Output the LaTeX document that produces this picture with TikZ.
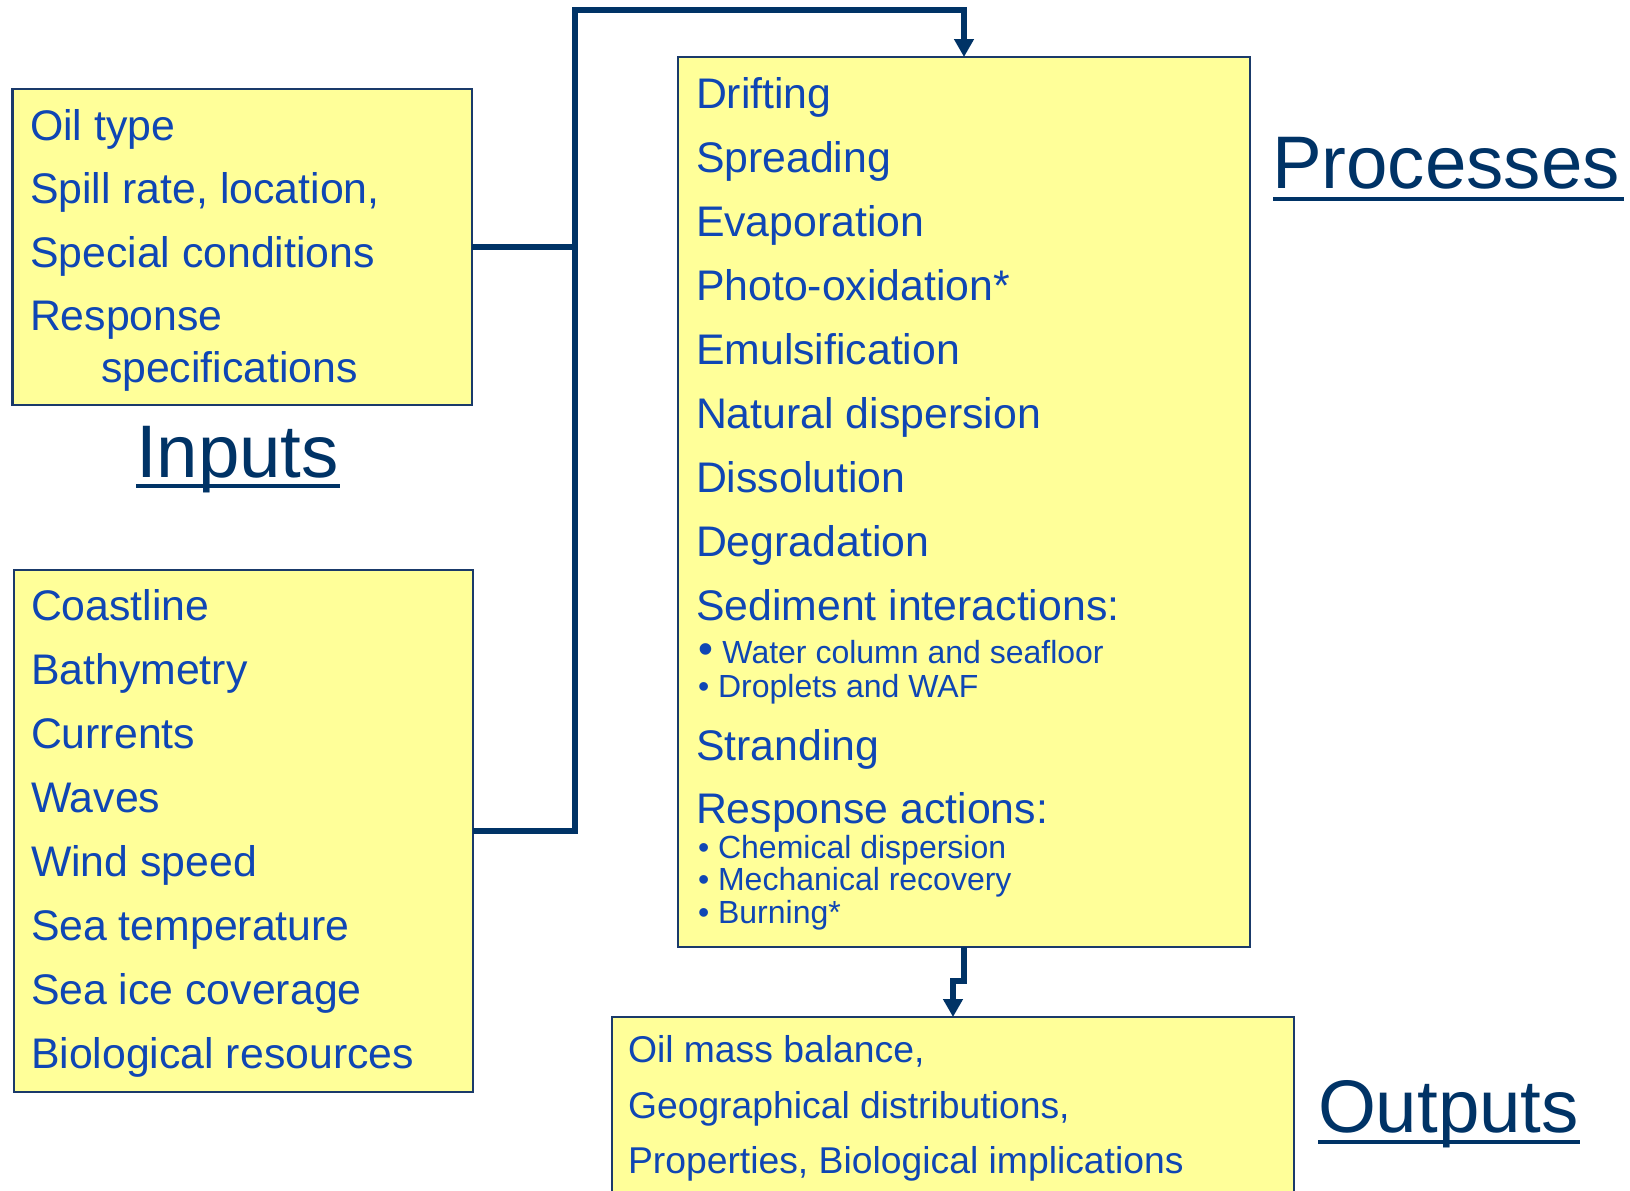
\documentclass[tikz,border=0pt]{standalone}
\usepackage{fontspec}
\setmainfont{Liberation Sans}
\usetikzlibrary{arrows.meta}
\definecolor{txtblue}{HTML}{0F46B4}
\definecolor{navy}{HTML}{003366}
\definecolor{boxfill}{HTML}{FFFF99}
\definecolor{boxline}{HTML}{1A3A6A}
\tikzset{
  box/.style={draw=boxline, line width=2.5pt, fill=boxfill, rectangle, inner sep=0pt, outer sep=0pt, anchor=north west},
  big/.style={anchor=base west, inner sep=0pt, outer sep=0pt, text=txtblue, font=\fontsize{42.8}{50}\selectfont},
  small/.style={anchor=base west, inner sep=0pt, outer sep=0pt, text=txtblue, font=\fontsize{32}{37}\selectfont},
  outtxt/.style={anchor=base west, inner sep=0pt, outer sep=0pt, text=txtblue, font=\fontsize{37.3}{44}\selectfont},
  title/.style={anchor=base west, inner sep=0pt, outer sep=0pt, text=navy, font=\fontsize{74.5}{80}\selectfont},
  uline/.style={draw=navy, line width=4.5pt},
  conn/.style={draw=navy, line width=6pt},
  tip/.style={-{Triangle[width=19pt,length=18pt]}}
}
\begin{document}
\begin{tikzpicture}[x=1pt,y=-1pt]
\clip (0,0) rectangle (1630,1191);
\fill[white] (0,0) rectangle (1630,1191);

% boxes
\node[box, minimum width=459.5pt, minimum height=316pt] (inbox1) at (12.5,89) {};
\node[box, minimum width=459pt, minimum height=522pt] (inbox2) at (14,570) {};
\node[box, minimum width=572pt, minimum height=890pt] (proc) at (678,57) {};
\node[box, minimum width=682pt, minimum height=200pt] (outbox) at (612,1017) {};

% input box 1 texts
\node[big] (a1) at (30,140) {Oil type};
\node[big] (a2) at (30,203) {Spill rate, location,};
\node[big] (a3) at (30,267) {Special conditions};
\node[big] (a4) at (30,330) {Response};
\node[big] (a5) at (101,382) {specifications};

% input box 2 texts
\node[big] (b1) at (31,620) {Coastline};
\node[big] (b2) at (31,684) {Bathymetry};
\node[big] (b3) at (31,748) {Currents};
\node[big] (b4) at (31,812) {Waves};
\node[big] (b5) at (31,876) {Wind speed};
\node[big] (b6) at (31,940) {Sea temperature};
\node[big] (b7) at (31,1004) {Sea ice coverage};
\node[big] (b8) at (31,1068) {Biological resources};

% process texts
\node[big] (p1) at (696,108) {Drifting};
\node[big] (p2) at (696,172) {Spreading};
\node[big] (p3) at (696,236) {Evaporation};
\node[big] (p4) at (696,300) {Photo-oxidation*};
\node[big] (p5) at (696,364) {Emulsification};
\node[big] (p6) at (696,428) {Natural dispersion};
\node[big] (p7) at (696,492) {Dissolution};
\node[big] (p8) at (696,556) {Degradation};
\node[big] (p9) at (696,620) {Sediment interactions:};
\node[small] (s1) at (698,663) {{\fontsize{42.5}{50}\selectfont •}\hspace{0.3em}Water column and seafloor};
\node[small] (s2) at (698,697) {• Droplets and WAF};
\node[big] (p10) at (696,760) {Stranding};
\node[big] (p11) at (696,823) {Response actions:};
\node[small] (s3) at (698,858) {• Chemical dispersion};
\node[small] (s4) at (698,890) {• Mechanical recovery};
\node[small] (s5) at (698,923) {• Burning*};

% output texts
\node[outtxt] (o1) at (628,1062) {Oil mass balance,};
\node[outtxt] (o2) at (628,1118) {Geographical distributions,};
\node[outtxt] (o3) at (628,1173) {Properties, Biological implications};

% titles
\node[title] (tin) at (136,477) {Inputs};
\draw[uline] (tin.base west) ++(0,9) -- ++(204,0);
\node[title] (tproc) at (1272,188) {Processes};
\draw[uline] (tproc.base west) ++(1,11) -- ++(351,0);
\node[title] (tout) at (1318,1132) {Outputs};
\draw[uline] (tout.base west) ++(0,10) -- ++(262,0);

% connectors
\coordinate (jtop) at (575,10);
\draw[conn] (inbox1.east) -- (inbox1.east -| jtop);
\draw[conn, tip] (inbox2.east) -| (jtop) -| (proc.north);
\draw[conn, tip] (proc.south) -- ++(0,34) -| (outbox.north);
\end{tikzpicture}
\end{document}
